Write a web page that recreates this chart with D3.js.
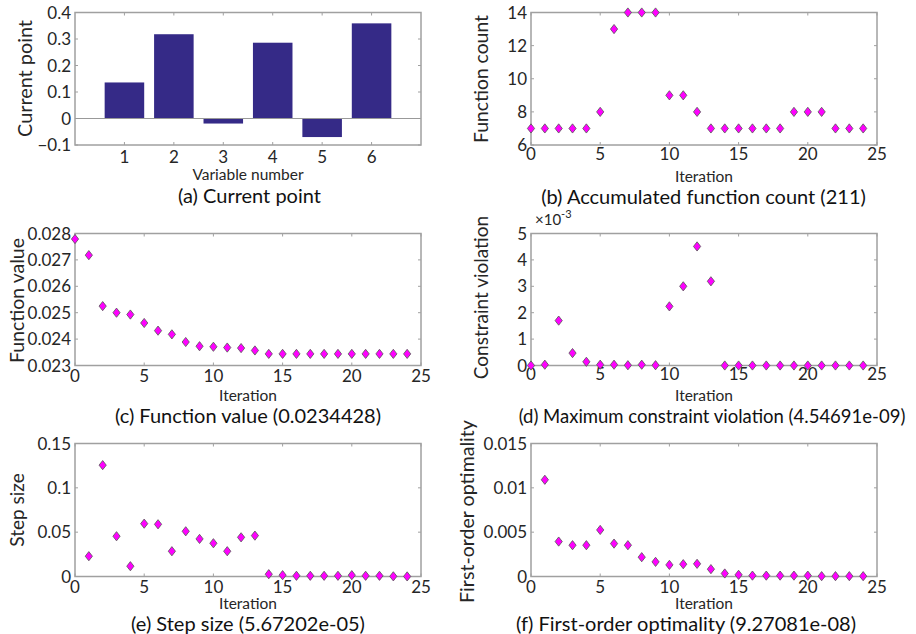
<!DOCTYPE html>
<html>
<head>
<meta charset="utf-8">
<script src="https://cdn.jsdelivr.net/npm/d3@7"></script>
<style>
  body { margin: 0; background: #fff; }
  text { font-family: Lato, "Open Sans", sans-serif; fill: #262626; }
</style>
</head>
<body>
<div id="viz"></div>
<script>
const width = 916;
const height = 634;
const markColor = '#ff00ff';
const barColor = '#352a87';
const boxColor = '#a0a0a0';

// data
const variables = [1, 2, 3, 4, 5, 6];
const currentPoint = [0.136, 0.318, -0.019, 0.286, -0.070, 0.359];

const iterations = d3.range(0, 25);
const funcCount = [7, 7, 7, 7, 7, 8, 13, 14, 14, 14, 9, 9, 8, 7, 7, 7, 7, 7, 7, 8, 8, 8, 7, 7, 7];
const funcValue = [0.02779, 0.02718, 0.02525, 0.02500, 0.02493, 0.02461, 0.02432, 0.02418, 0.02389,
  0.02373, 0.02371, 0.02368, 0.02366, 0.02357, 0.02344, 0.02344, 0.02344, 0.02344, 0.02344,
  0.02344, 0.02344, 0.02344, 0.02344, 0.02344, 0.02344];
const constrViol = [0, 0.03e-3, 1.70e-3, 0.47e-3, 0.14e-3, 0.03e-3, 0.03e-3, 0.01e-3, 0.03e-3, 0.01e-3,
  2.24e-3, 3.00e-3, 4.51e-3, 3.19e-3, 0, 0, 0, 0, 0, 0, 0, 0, 0, 0, 0];
// step size and optimality start at iteration 1
const stepSize = [null, 0.0229, 0.1256, 0.0454, 0.0116, 0.0596, 0.0589, 0.0285, 0.0510, 0.0424, 0.0375,
  0.0285, 0.0442, 0.0461, 0.0026, 0.0015, 0.0008, 0.0008, 0.0008, 0.0008, 0.0015, 0.0008, 0.0008,
  0.0002, 0.0001];
const optimality = [null, 0.01091, 0.00394, 0.00353, 0.00353, 0.00525, 0.00371, 0.00353, 0.00218,
  0.00165, 0.00131, 0.00139, 0.00143, 0.00083, 0.00034, 0.00019, 0.0001, 0.0001, 0.0001, 0.0001,
  0.0001, 0.00004, 0.00004, 0.00004, 0.00004];

const svg = d3.select('#viz')
  .append('svg')
    .attr('width', width)
    .attr('height', height);

// nudge a text's size so it spans about the length it has in the reference
const fitWidth = (sel, w, base) => {
  const n = sel.node().getComputedTextLength();
  const size = Math.max(base - 1, Math.min(base + 1.5, base * w / n));
  sel.style('font-size', size + 'px');
};

// one panel: ticks, labels
const drawPanel = (opt) => {
  const g = svg.append('g');
  const x = d3.scaleLinear().domain(opt.xDomain).range([opt.left, opt.right]);
  const y = d3.scaleLinear().domain(opt.yDomain).range([opt.bottom, opt.top]);

  // tick marks inside on all four sides
  const tickLen = 3;
  g.selectAll('.xt').data(opt.xTicks).join('path')
    .attr('d', d => `M${x(d)},${opt.bottom}v${-tickLen}M${x(d)},${opt.top}v${tickLen}`)
    .attr('stroke', boxColor).attr('stroke-width', 1);
  g.selectAll('.yt').data(opt.yTicks).join('path')
    .attr('d', d => `M${opt.left},${y(d)}h${tickLen}M${opt.right},${y(d)}h${-tickLen}`)
    .attr('stroke', boxColor).attr('stroke-width', 1);

  // tick labels
  g.selectAll('.xl').data(opt.xTicks).join('text')
    .attr('x', d => x(d))
    .attr('y', opt.bottom + opt.xTickDy)
    .attr('text-anchor', 'middle')
    .style('font-size', '17px')
    .text(d => d);
  g.selectAll('.yl').data(opt.yTicks).join('text')
    .attr('x', opt.left - 4)
    .attr('y', d => y(d) + 6)
    .attr('text-anchor', 'end')
    .style('font-size', '17px')
    .text(opt.yFormat);

  // axis labels
  const cx = (opt.left + opt.right) / 2;
  g.append('text')
    .attr('x', cx)
    .attr('y', opt.bottom + opt.xLabelDy)
    .attr('text-anchor', 'middle')
    .style('font-size', '15.5px')
    .text(opt.xLabel);
  const yl = g.append('text')
    .attr('transform', `translate(${opt.yLabelX},${opt.yLabelY}) rotate(-90)`)
    .attr('text-anchor', 'middle')
    .style('font-size', '20px')
    .text(opt.yLabel);
  fitWidth(yl, opt.yLabelW, 20);
  g.append('text')
    .attr('x', opt.titleX)
    .attr('y', opt.bottom + opt.titleDy)
    .attr('text-anchor', 'middle')
    .style('font-size', (opt.titleSize || 20) + 'px')
    .style('fill', '#111')
    .text(opt.title);

  return {g, x, y, opt};
};

const drawBox = (p) => {
  p.g.append('rect')
    .attr('x', p.opt.left).attr('y', p.opt.top)
    .attr('width', p.opt.right - p.opt.left)
    .attr('height', p.opt.bottom - p.opt.top)
    .attr('fill', 'none')
    .attr('stroke', boxColor)
    .attr('stroke-width', 1.5);
};

const diamond = d3.symbol().type(d3.symbolDiamond).size(34);

const drawPoints = (p, values) => {
  const pts = iterations.map((it, i) => [it, values[i]]).filter(d => d[1] !== null);
  p.g.selectAll('.pt').data(pts).join('path')
    .attr('d', diamond)
    .attr('transform', d => `translate(${p.x(d[0])},${p.y(d[1])}) scale(1.15,0.85)`)
    .attr('fill', markColor)
    .attr('stroke', '#555')
    .attr('stroke-width', 0.8);
};

const iterTicks = [0, 5, 10, 15, 20, 25];
const colL = {left: 75, right: 421};
const colR = {left: 531, right: 877};
const row1 = {top: 12.5, bottom: 145};
const row2 = {top: 233.5, bottom: 365.5};
const row3 = {top: 443.5, bottom: 576.5};

// (a) bar chart
const pa = drawPanel({...colL, ...row1,
  xDomain: [0, 7], yDomain: [-0.1, 0.4],
  xTicks: variables, yTicks: [-0.1, 0, 0.1, 0.2, 0.3, 0.4],
  yFormat: d => d === 0 ? '0' : d3.format('.1f')(d), xTickDy: 18,
  xLabel: 'Variable number', xLabelDy: 35,
  yLabel: 'Current point', yLabelX: 32, yLabelY: 78.5, yLabelW: 117,
  title: '(a) Current point', titleDy: 57.5, titleX: 249.5});
pa.g.selectAll('.bar').data(currentPoint).join('rect')
  .attr('x', (d, i) => pa.x(variables[i] - 0.4))
  .attr('width', pa.x(0.8) - pa.x(0))
  .attr('y', d => pa.y(Math.max(0, d)))
  .attr('height', d => Math.abs(pa.y(d) - pa.y(0)))
  .attr('fill', barColor);
pa.g.append('line')
  .attr('x1', pa.opt.left).attr('x2', pa.opt.right)
  .attr('y1', pa.y(0)).attr('y2', pa.y(0))
  .attr('stroke', '#999').attr('stroke-width', 1);
drawBox(pa);

// (b) function count
const pb = drawPanel({...colR, ...row1,
  xDomain: [0, 25], yDomain: [6, 14],
  xTicks: iterTicks, yTicks: [6, 8, 10, 12, 14], yFormat: d => d, xTickDy: 15,
  xLabel: 'Iteration', xLabelDy: 37,
  yLabel: 'Function count', yLabelX: 488, yLabelY: 79, yLabelW: 128,
  title: '(b) Accumulated function count (211)', titleDy: 59, titleX: 703.5});
drawBox(pb);
drawPoints(pb, funcCount);

// (c) function value
const pc = drawPanel({...colL, ...row2,
  xDomain: [0, 25], yDomain: [0.023, 0.028],
  xTicks: iterTicks, yTicks: [0.023, 0.024, 0.025, 0.026, 0.027, 0.028], yFormat: d3.format('.3f'),
  xTickDy: 16, xLabel: 'Iteration', xLabelDy: 35.5,
  yLabel: 'Function value', yLabelX: 24, yLabelY: 300.5, yLabelW: 125,
  title: '(c) Function value (0.0234428)', titleDy: 57, titleX: 248});
drawBox(pc);
drawPoints(pc, funcValue);

// (d) constraint violation
const pd = drawPanel({...colR, ...row2,
  xDomain: [0, 25], yDomain: [0, 0.005],
  xTicks: iterTicks, yTicks: [0, 0.001, 0.002, 0.003, 0.004, 0.005], yFormat: d => Math.round(d * 1000),
  xTickDy: 14, xLabel: 'Iteration', xLabelDy: 35.5,
  yLabel: 'Constraint violation', yLabelX: 488, yLabelY: 297.5, yLabelW: 155,
  title: '(d) Maximum constraint violation (4.54691e-09)', titleDy: 57, titleX: 712, titleSize: 18.5});
drawBox(pd);
drawPoints(pd, constrViol);
const exp = pd.g.append('text')
  .attr('x', 535).attr('y', 225)
  .style('font-size', '15px');
exp.append('tspan').text('\u00d710');
exp.append('tspan').attr('dy', -7).style('font-size', '11px').text('-3');

// (e) step size
const pe = drawPanel({...colL, ...row3,
  xDomain: [0, 25], yDomain: [0, 0.15],
  xTicks: iterTicks, yTicks: [0, 0.05, 0.1, 0.15], yFormat: d => d,
  xTickDy: 16.5, xLabel: 'Iteration', xLabelDy: 32.5,
  yLabel: 'Step size', yLabelX: 24, yLabelY: 510, yLabelW: 73,
  title: '(e) Step size (5.67202e-05)', titleDy: 54, titleX: 248});
drawBox(pe);
drawPoints(pe, stepSize);

// (f) first-order optimality
const pf = drawPanel({...colR, ...row3,
  xDomain: [0, 25], yDomain: [0, 0.015],
  xTicks: iterTicks, yTicks: [0, 0.005, 0.01, 0.015], yFormat: d => d,
  xTickDy: 16.5, xLabel: 'Iteration', xLabelDy: 32.5,
  yLabel: 'First-order optimality', yLabelX: 474, yLabelY: 511.5, yLabelW: 183,
  title: '(f) First-order optimality (9.27081e-08)', titleDy: 54, titleX: 686});
drawBox(pf);
drawPoints(pf, optimality);
</script>
</body>
</html>
